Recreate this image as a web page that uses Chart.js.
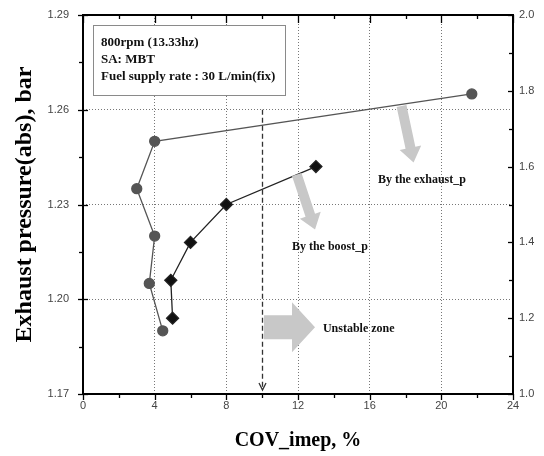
<!DOCTYPE html>
<html>
<head>
<meta charset="utf-8">
<script src="https://cdn.jsdelivr.net/npm/chart.js@4/dist/chart.umd.min.js"></script>
<style>
  html, body { margin: 0; padding: 0; background: #fff; }
</style>
</head>
<body>
<canvas id="grafico" width="544" height="456"></canvas>
<script>
// dados
const covExhaust = [4.45, 3.7, 4.0, 3.0, 4.0, 21.7];
const exhaustP = [1.190, 1.205, 1.220, 1.235, 1.250, 1.265];
const covBoost = [5.0, 4.9, 6.0, 8.0, 13.0];
const boostP = [1.2, 1.3, 1.4, 1.5, 1.6];
const xTicks = [0, 4, 8, 12, 16, 20, 24];
const yLeftTicks = [1.17, 1.20, 1.23, 1.26, 1.29];
const yRightTicks = [1.0, 1.2, 1.4, 1.6, 1.8, 2.0];
const infoLines = ["800rpm (13.33hz)", "SA: MBT", "Fuel supply rate : 30 L/min(fix)"];
const unstableCov = 10;

const serif = "'Liberation Serif', 'Times New Roman', serif";
const sans = "'Liberation Sans', Arial, sans-serif";

function isMajor(list, v) {
  return list.some((t) => Math.abs(t - v) < 1e-6);
}

// seta cinza grossa
function blockArrow(ctx, x0, y0, x1, y1, bodyHalf, headHalf, headLen) {
  const ang = Math.atan2(y1 - y0, x1 - x0);
  const len = Math.hypot(x1 - x0, y1 - y0);
  ctx.save();
  ctx.translate(x0, y0);
  ctx.rotate(ang);
  ctx.beginPath();
  ctx.moveTo(0, -bodyHalf);
  ctx.lineTo(len - headLen, -bodyHalf);
  ctx.lineTo(len - headLen, -headHalf);
  ctx.lineTo(len, 0);
  ctx.lineTo(len - headLen, headHalf);
  ctx.lineTo(len - headLen, bodyHalf);
  ctx.lineTo(0, bodyHalf);
  ctx.closePath();
  ctx.fillStyle = "#c8c8c8";
  ctx.fill();
  ctx.restore();
}

const extras = {
  id: "extras",
  afterDraw(chart) {
    const ctx = chart.ctx;
    const { left, right, top, bottom } = chart.chartArea;
    const sx = chart.scales.x, sy = chart.scales.y, sy2 = chart.scales.y2;
    ctx.save();

    // moldura
    ctx.strokeStyle = "#000";
    ctx.lineWidth = 2;
    ctx.setLineDash([]);
    ctx.strokeRect(left, top, right - left, bottom - top);

    // marcas dos eixos
    ctx.lineWidth = 1.3;
    for (let v = 0; v <= 24; v += 2) {
      const px = Math.round(sx.getPixelForValue(v)) + 0.5;
      const maj = isMajor(xTicks, v);
      ctx.beginPath();
      ctx.moveTo(px, bottom);
      ctx.lineTo(px, bottom + (maj ? 6 : 4));
      ctx.moveTo(px, top);
      ctx.lineTo(px, top + (maj ? 8 : 4));
      ctx.stroke();
    }
    for (let i = 0; i <= 8; i++) {
      const v = 1.17 + i * 0.015;
      const py = Math.round(sy.getPixelForValue(v)) + 0.5;
      const maj = i % 2 === 0;
      ctx.beginPath();
      ctx.moveTo(left - (maj ? 5 : 4), py);
      ctx.lineTo(left + (maj ? 5 : 0), py);
      ctx.stroke();
    }
    for (let i = 0; i <= 10; i++) {
      const v = 1 + i * 0.1;
      const py = Math.round(sy2.getPixelForValue(v)) + 0.5;
      const maj = i % 2 === 0;
      ctx.beginPath();
      ctx.moveTo(right - (maj ? 5 : 4), py);
      ctx.lineTo(right, py);
      ctx.stroke();
    }

    // caixa de condições
    const bx = left + 10, by = top + 10, bw = 192, bh = 70;
    ctx.fillStyle = "#fff";
    ctx.fillRect(bx, by, bw, bh);
    ctx.strokeStyle = "#8a8a8a";
    ctx.lineWidth = 1;
    ctx.strokeRect(bx + 0.5, by + 0.5, bw, bh);
    ctx.fillStyle = "#111";
    ctx.font = "bold 13px " + serif;
    ctx.textBaseline = "middle";
    ctx.textAlign = "left";
    infoLines.forEach((t, i) => ctx.fillText(t, bx + 8, by + 18 + i * 17));

    // linha tracejada do limite instável
    const ux = Math.round(sx.getPixelForValue(unstableCov)) + 0.5;
    const uy0 = sy.getPixelForValue(1.26);
    const uy1 = bottom - 4;
    ctx.strokeStyle = "#333";
    ctx.lineWidth = 1.3;
    ctx.setLineDash([5, 3]);
    ctx.beginPath();
    ctx.moveTo(ux, uy0);
    ctx.lineTo(ux, uy1);
    ctx.stroke();
    ctx.setLineDash([]);
    ctx.beginPath();
    ctx.moveTo(ux - 3.5, uy1 - 7);
    ctx.lineTo(ux, uy1);
    ctx.lineTo(ux + 3.5, uy1 - 7);
    ctx.stroke();

    // setas cinzas
    blockArrow(ctx, sx.getPixelForValue(17.78), sy.getPixelForValue(1.2612),
      sx.getPixelForValue(18.45), sy.getPixelForValue(1.2433), 5, 11, 15);
    blockArrow(ctx, sx.getPixelForValue(11.93), sy.getPixelForValue(1.2395),
      sx.getPixelForValue(12.95), sy.getPixelForValue(1.2221), 5, 11, 15);
    blockArrow(ctx, sx.getPixelForValue(10.1), sy.getPixelForValue(1.1911),
      sx.getPixelForValue(12.95), sy.getPixelForValue(1.1911), 12, 25, 23);

    // rótulos
    ctx.fillStyle = "#111";
    ctx.font = "bold 12px " + serif;
    ctx.fillText("By the exhaust_p", sx.getPixelForValue(16.46), sy.getPixelForValue(1.2379));
    ctx.fillText("By the boost_p", sx.getPixelForValue(11.66), sy.getPixelForValue(1.2167));
    ctx.fillText("Unstable zone", sx.getPixelForValue(13.39), sy.getPixelForValue(1.1905));

    ctx.restore();
  },
};

new Chart(document.getElementById("grafico"), {
  type: "scatter",
  data: {
    datasets: [
      {
        label: "exhaust_p",
        data: covExhaust.map((x, i) => ({ x: x, y: exhaustP[i] })),
        yAxisID: "y",
        showLine: true,
        borderColor: "#555",
        backgroundColor: "#555",
        borderWidth: 1.3,
        pointRadius: 5,
        pointStyle: "circle",
      },
      {
        label: "boost_p",
        data: covBoost.map((x, i) => ({ x: x, y: boostP[i] })),
        yAxisID: "y2",
        showLine: true,
        borderColor: "#222",
        backgroundColor: "#111",
        borderWidth: 1.3,
        pointRadius: 6,
        pointStyle: "rectRot",
      },
    ],
  },
  options: {
    responsive: false,
    animation: false,
    layout: { padding: { top: 15, right: 0, left: 0, bottom: 0 } },
    plugins: { legend: { display: false }, tooltip: { enabled: false } },
    scales: {
      x: {
        type: "linear",
        min: 0,
        max: 24,
        afterBuildTicks: (s) => { s.ticks = xTicks.map((v) => ({ value: v })); },
        ticks: { font: { family: sans, size: 11 }, color: "#444", padding: 5, maxRotation: 0 },
        grid: {
          drawTicks: false,
          color: (c) => (c.tick && c.tick.value > 0 && c.tick.value < 24 ? "#777" : "transparent"),
          lineWidth: 1,
        },
        border: { display: false, dash: [1, 2] },
        title: {
          display: true,
          text: "COV_imep, %",
          font: { family: serif, size: 20, weight: "bold" },
          color: "#000",
          padding: { top: 0, bottom: 3 },
        },
        afterFit: (s) => { s.height = 62; s.paddingLeft = 0; s.paddingRight = 0; },
      },
      y: {
        position: "left",
        min: 1.17,
        max: 1.29,
        afterBuildTicks: (s) => { s.ticks = yLeftTicks.map((v) => ({ value: v })); },
        ticks: { font: { family: sans, size: 11 }, color: "#444", padding: 14, callback: (v) => v.toFixed(2) },
        grid: {
          drawTicks: false,
          color: (c) => (c.tick && c.tick.value > 1.171 && c.tick.value < 1.289 ? "#777" : "transparent"),
          lineWidth: 1,
        },
        border: { display: false, dash: [1, 2] },
        title: {
          display: true,
          text: "Exhaust pressure(abs), bar",
          font: { family: serif, size: 24, weight: "bold" },
          color: "#000",
          padding: { top: 10, bottom: 0 },
        },
        afterFit: (s) => { s.width = 83; s.paddingTop = 0; s.paddingBottom = 0; },
      },
      y2: {
        position: "right",
        min: 1.0,
        max: 2.0,
        afterBuildTicks: (s) => { s.ticks = yRightTicks.map((v) => ({ value: v })); },
        ticks: { font: { family: sans, size: 11 }, color: "#444", padding: 6, callback: (v) => v.toFixed(1) },
        grid: { drawTicks: false, drawOnChartArea: false },
        border: { display: false },
        afterFit: (s) => { s.width = 31; s.paddingTop = 0; s.paddingBottom = 0; },
      },
    },
  },
  plugins: [extras],
});
</script>
</body>
</html>
